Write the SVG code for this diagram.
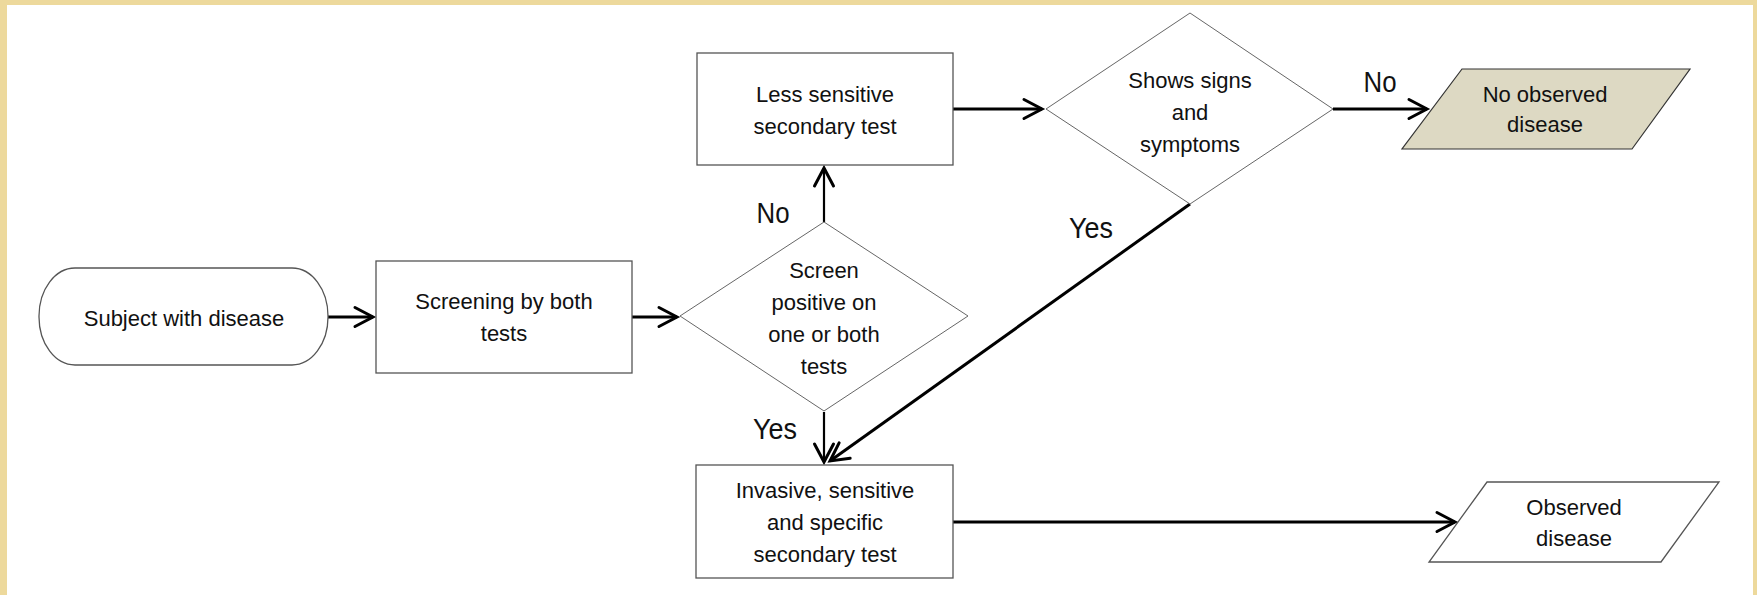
<svg xmlns="http://www.w3.org/2000/svg" width="1757" height="595" viewBox="0 0 1757 595">
  <style>
    .shape { fill: #ffffff; stroke: #555555; stroke-width: 1.3; }
    .diamond { fill: #ffffff; stroke: #666666; stroke-width: 1; }
    .txt { font-family: "Liberation Sans", Arial, sans-serif; font-size: 22px; fill: #111111; text-anchor: middle; }
    .lbl { font-family: "Liberation Sans", Arial, sans-serif; font-size: 30px; fill: #111111; text-anchor: middle; }
    .conn { fill: none; stroke: #000000; stroke-width: 3; }
    .thin { stroke-width: 2.2; }
  </style>
  <defs>
    <marker id="arr" markerUnits="userSpaceOnUse" markerWidth="30" markerHeight="30" viewBox="-25 -15 30 30" refX="0" refY="0" orient="auto" overflow="visible">
      <path d="M-18,-9.5 L0,0 L-18,9.5" fill="none" stroke="#000000" stroke-width="3" stroke-linecap="round" stroke-linejoin="miter"/>
    </marker>
  </defs>

  <rect x="0" y="0" width="1757" height="595" fill="#EDD99C"/>
  <rect x="7" y="5" width="1746" height="590" fill="#ffffff"/>

  <g id="connectors">
    <line class="conn" x1="328" y1="317" x2="373" y2="317" marker-end="url(#arr)"/>
    <line class="conn" x1="632" y1="317" x2="677" y2="317" marker-end="url(#arr)"/>
    <line class="conn thin" x1="824" y1="222" x2="824" y2="168" marker-end="url(#arr)"/>
    <line class="conn thin" x1="824" y1="412" x2="824" y2="462" marker-end="url(#arr)"/>
    <line class="conn" x1="953" y1="109" x2="1042" y2="109" marker-end="url(#arr)"/>
    <line class="conn" x1="1333" y1="109" x2="1427" y2="109" marker-end="url(#arr)"/>
    <line class="conn" x1="1190" y1="204" x2="830" y2="461" marker-end="url(#arr)"/>
    <line class="conn" x1="953" y1="522" x2="1455" y2="522" marker-end="url(#arr)"/>
    <text class="lbl" x="773" y="223" textLength="33" lengthAdjust="spacingAndGlyphs">No</text>
    <text class="lbl" x="775" y="439" textLength="44" lengthAdjust="spacingAndGlyphs">Yes</text>
    <text class="lbl" x="1091" y="238" textLength="44" lengthAdjust="spacingAndGlyphs">Yes</text>
    <text class="lbl" x="1380" y="92" textLength="33" lengthAdjust="spacingAndGlyphs">No</text>
  </g>

  <g id="subject">
    <rect class="shape" x="39" y="268" width="289" height="97" rx="36" ry="48"/>
    <text class="txt" x="184" y="326">Subject with disease</text>
  </g>

  <g id="screening">
    <rect class="shape" x="376" y="261" width="256" height="112"/>
    <text class="txt" x="504" y="309">Screening by both</text>
    <text class="txt" x="504" y="341">tests</text>
  </g>

  <g id="screen-positive">
    <polygon class="diamond" points="824,222 968,316 824,411 680,316"/>
    <text class="txt" x="824" y="278">Screen</text>
    <text class="txt" x="824" y="310">positive on</text>
    <text class="txt" x="824" y="342">one or both</text>
    <text class="txt" x="824" y="374">tests</text>
  </g>

  <g id="less-sensitive">
    <rect class="shape" x="697" y="53" width="256" height="112"/>
    <text class="txt" x="825" y="102">Less sensitive</text>
    <text class="txt" x="825" y="134">secondary test</text>
  </g>

  <g id="signs-symptoms">
    <polygon class="diamond" points="1190,13 1333,109 1190,204 1046,109"/>
    <text class="txt" x="1190" y="88">Shows signs</text>
    <text class="txt" x="1190" y="120">and</text>
    <text class="txt" x="1190" y="152">symptoms</text>
  </g>

  <g id="no-observed">
    <polygon points="1462,69 1690,69 1632,149 1402,149" fill="#DDD9C3" stroke="#333333" stroke-width="1.2"/>
    <text class="txt" x="1545" y="102">No observed</text>
    <text class="txt" x="1545" y="132">disease</text>
  </g>

  <g id="invasive">
    <rect class="shape" x="696" y="465" width="257" height="113"/>
    <text class="txt" x="825" y="498">Invasive, sensitive</text>
    <text class="txt" x="825" y="530">and specific</text>
    <text class="txt" x="825" y="562">secondary test</text>
  </g>

  <g id="observed">
    <polygon class="shape" points="1487,482 1719,482 1661,562 1429,562"/>
    <text class="txt" x="1574" y="515">Observed</text>
    <text class="txt" x="1574" y="546">disease</text>
  </g>
</svg>
